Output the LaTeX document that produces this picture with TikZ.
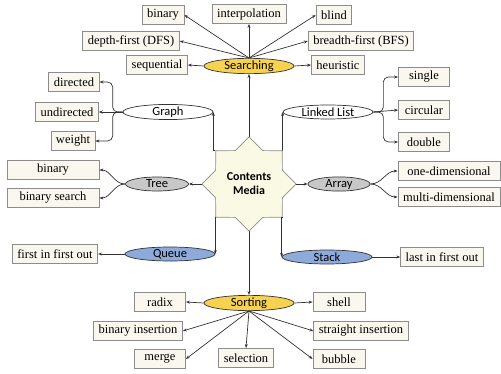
\documentclass[tikz,border=0pt]{standalone}
\usepackage{fontspec}
\setmainfont{Liberation Serif}
\newfontfamily\labelfont{Carlito}
\usetikzlibrary{shapes.geometric,arrows.meta}
\definecolor{gold}{RGB}{247,210,80}
\definecolor{silver}{RGB}{200,200,200}
\definecolor{skyblue}{RGB}{142,170,219}
\definecolor{cream}{RGB}{250,248,238}
\definecolor{ivory}{RGB}{250,250,228}
\begin{document}
\begin{tikzpicture}[x=1pt,y=-1pt]
	\tikzstyle{Box} = [rectangle, draw=black!45, fill=cream, line width=0.8pt, minimum height=19, inner xsep=5pt, inner ysep=0pt, font=\fontsize{12.5}{14}\selectfont]
	\tikzstyle{Oval} = [ellipse, draw=black!80, line width=0.7pt, minimum width=90, minimum height=14, inner sep=0pt, font=\labelfont\fontsize{12.5}{14}\selectfont]
	\tikzstyle{Star} = [star, star points=8, star point ratio=1.3, draw=black!45, fill=ivory, line width=0.7pt, minimum size=94, inner sep=0pt, align=center, font=\labelfont\bfseries\fontsize{12}{14}\selectfont]
	\tikzstyle{arr} = [-{Stealth[length=4pt,width=3pt]}, draw=black!80, line width=0.7pt]
	\useasboundingbox (0,0) rectangle (501,374);
	\node (media) at (249,184) [Star] {Contents\\Media};
	\node (search) at (249,66) [Oval, fill=gold] {Searching};
	\node (sort) at (249,303) [Oval, fill=gold] {Sorting};
	\node (graph) at (168,112) [Oval, fill=white] {Graph};
	\node (tree) at (157,184) [Oval, fill=silver, minimum width=63] {Tree};
	\node (queue) at (170,254) [Oval, fill=skyblue] {Queue};
	\node (linked) at (328,112) [Oval, fill=white] {Linked List};
	\node (array) at (339,184) [Oval, fill=silver, minimum width=62] {Array};
	\node (stack) at (327,257) [Oval, fill=skyblue] {Stack};
	\node (sbin) at (163,15) [Box] {binary};
	\node (sint) at (249,14) [Box] {interpolation};
	\node (sblind) at (334,15) [Box] {blind};
	\node (sdfs) at (131,41) [Box] {depth-first (DFS)};
	\node (sbfs) at (361,41) [Box] {breadth-first (BFS)};
	\node (sseq) at (157,65) [Box] {sequential};
	\node (sheur) at (338,65) [Box] {heuristic};
	\node (gdir) at (74,82) [Box] {directed};
	\node (gund) at (67,112) [Box] {undirected};
	\node (gwei) at (73,141) [Box] {weight};
	\node (tbin) at (53,170) [Box, minimum width=92] {binary};
	\node (tsearch) at (53,198) [Box, minimum width=92] {binary search};
	\node (qfifo) at (55,254) [Box] {first in first out};
	\node (lsing) at (424,77) [Box, minimum width=51] {single};
	\node (lcirc) at (424,110) [Box, minimum width=51] {circular};
	\node (ldoub) at (424,142) [Box, minimum width=51] {double};
	\node (aone) at (449,171) [Box, minimum width=102] {one-dimensional};
	\node (amulti) at (449,197) [Box, minimum width=102] {multi-dimensional};
	\node (slifo) at (442,257) [Box] {last in first out};
	\node (oradix) at (160,302) [Box, minimum width=51] {radix};
	\node (obins) at (138,331) [Box] {binary insertion};
	\node (omerge) at (160,359) [Box, minimum width=51] {merge};
	\node (osel) at (246,358) [Box] {selection};
	\node (oshell) at (339,302) [Box, minimum width=52] {shell};
	\node (ostr) at (361,331) [Box] {straight insertion};
	\node (obub) at (339,359) [Box, minimum width=52] {bubble};
	\draw [arr] (media.outer point 1) to (search.south);
	\draw [arr] (media.outer point 5) to (sort.north);
	\draw [arr] (media.outer point 3) to (tree.east);
	\draw [arr] (media.outer point 7) to (array.west);
	\draw [arr] (media.outer point 2) -| (graph.east);
	\draw [arr] (media.outer point 4) -| (queue.east);
	\draw [arr] (media.outer point 8) -| (linked.west);
	\draw [arr] (media.outer point 6) -| (stack.west);
	\draw [arr] (search.north) to (sbin.east);
	\draw [arr] (search.north) to (sint.south);
	\draw [arr] (search.north) to (sblind.west);
	\draw [arr] (search.north) to (sdfs.east);
	\draw [arr] (search.north) to (sbfs.west);
	\draw [arr] (search.west) to (sseq.east);
	\draw [arr] (search.east) to (sheur.west);
	\draw [arr, rounded corners=5] (graph.west) -- ++(-10,0) |- (gdir.east);
	\draw [arr] (graph.west) to (gund.east);
	\draw [arr, rounded corners=5] (graph.west) -- ++(-10,0) |- (gwei.east);
	\draw [arr] (tree.west) to[out=180, in=0] (tbin.east);
	\draw [arr] (tree.west) to[out=180, in=0] (tsearch.east);
	\draw [arr] (queue.west) to (qfifo.east);
	\draw [arr, rounded corners=5] (linked.east) -- ++(10,0) |- (lsing.west);
	\draw [arr] (linked.east) to (lcirc.west);
	\draw [arr, rounded corners=5] (linked.east) -- ++(10,0) |- (ldoub.west);
	\draw [arr] (array.east) to[out=0, in=180] (aone.west);
	\draw [arr] (array.east) to[out=0, in=180] (amulti.west);
	\draw [arr] (stack.east) to (slifo.west);
	\draw [arr] (sort.west) to (oradix.east);
	\draw [arr] (sort.south) to (obins.east);
	\draw [arr] (sort.south) to (omerge.east);
	\draw [arr] (sort.south) to (osel.north);
	\draw [arr] (sort.east) to (oshell.west);
	\draw [arr] (sort.south) to (ostr.west);
	\draw [arr] (sort.south) to (obub.west);
\end{tikzpicture}
\end{document}
